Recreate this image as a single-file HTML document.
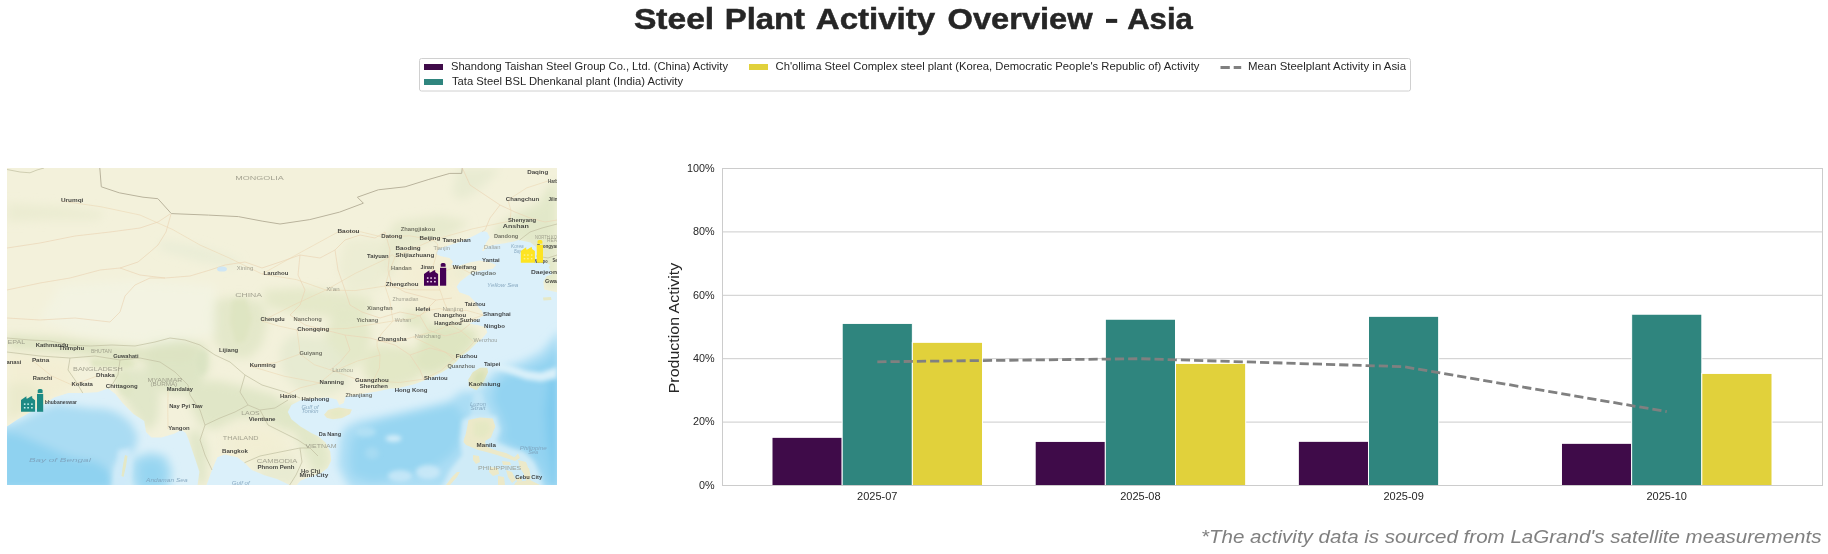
<!DOCTYPE html>
<html><head><meta charset="utf-8">
<style>
html,body{margin:0;padding:0;background:#fff;}
body{width:1828px;height:554px;overflow:hidden;font-family:"Liberation Sans",sans-serif;}
svg{display:block;position:absolute;left:0;top:0;will-change:transform;}
text{font-family:"Liberation Sans",sans-serif;}
</style></head><body>
<svg width="1828" height="554" viewBox="0 0 1828 554">
<rect width="1828" height="554" fill="#ffffff"/>
<g id="title" font-size="29.5" font-weight="bold" fill="#262626" stroke="#262626" stroke-width="0.5">
<text x="633.9" y="29" textLength="80.3" lengthAdjust="spacingAndGlyphs">Steel</text>
<text x="724.8" y="29" textLength="80.2" lengthAdjust="spacingAndGlyphs">Plant</text>
<text x="815.8" y="29" textLength="119.4" lengthAdjust="spacingAndGlyphs">Activity</text>
<text x="947.6" y="29" textLength="145.0" lengthAdjust="spacingAndGlyphs">Overview</text>
<text x="1127.2" y="29" textLength="65.6" lengthAdjust="spacingAndGlyphs">Asia</text>
</g>
<rect x="1106" y="18.9" width="11.2" height="4" fill="#262626"/>
<g id="legend">
<rect x="419.5" y="58.5" width="991" height="32.5" rx="2" ry="2" fill="#fff" stroke="#d0d0d0" stroke-width="1"/>
<rect x="424" y="64" width="19" height="6" fill="#3f0b49"/><rect x="424" y="79" width="19" height="6" fill="#2f857e"/><rect x="749" y="64" width="19" height="6" fill="#e1d13b"/>
<path d="M1220.5 67.4H1229.8M1233.7 67.4H1241.2" stroke="#808080" stroke-width="3" fill="none"/>
<g font-size="11.4" fill="#262626">
<text id="lg1" x="451" y="70" textLength="277" lengthAdjust="spacingAndGlyphs">Shandong Taishan Steel Group Co., Ltd. (China) Activity</text>
<text id="lg2" x="452" y="85" textLength="231" lengthAdjust="spacingAndGlyphs">Tata Steel BSL Dhenkanal plant (India) Activity</text>
<text id="lg3" x="775.5" y="70" textLength="424" lengthAdjust="spacingAndGlyphs">Ch'ollima Steel Complex steel plant (Korea, Democratic People's Republic of) Activity</text>
<text id="lg4" x="1248" y="70" textLength="158" lengthAdjust="spacingAndGlyphs">Mean Steelplant Activity in Asia</text>
</g></g>
<g id="map">
<defs>
<clipPath id="mapclip"><rect x="7" y="168" width="550" height="317"/></clipPath>
<clipPath id="seaclip"><polygon points="557.0,292.2 557.0,485.0 296.9,485.0 300.5,480.7 309.5,477.1 320.3,473.5 327.6,468.1 331.2,460.8 330.3,451.8 325.8,442.8 318.5,436.5 311.3,432.9 300.5,426.5 291.4,419.3 287.8,412.1 291.4,404.9 300.5,400.3 313.1,398.5 327.6,397.6 336.6,399.4 339.3,404.9 343.8,403.1 345.6,396.7 361.9,394.0 378.1,391.3 390.8,388.6 397.0,388.5 404.2,386.7 415.1,384.0 424.1,380.4 433.1,376.7 442.1,372.2 449.4,367.7 456.6,361.4 460.2,356.9 469.2,350.6 476.5,343.3 481.9,338.8 487.3,332.5 485.5,327.1 478.3,325.3 469.2,323.5 476.5,319.9 483.7,315.4 481.9,310.8 479.2,308.5 474.7,301.5 469.2,295.8 459.3,292.2 456.6,286.8 460.2,281.4 467.4,276.0 472.8,272.4 481.9,270.6 492.7,268.8 496.3,265.1 490.9,262.4 480.1,260.6 469.2,262.4 458.4,266.0 451.2,265.1 453.0,261.5 449.4,257.9 440.3,256.1 435.8,253.4 438.5,248.9 449.4,245.3 458.4,242.6 469.2,238.1 476.5,234.4 482.6,231.0 487.0,232.0 489.8,237.3 486.2,242.8 483.0,248.2 482.1,250.9 483.8,250.9 487.0,246.6 496.1,244.6 505.1,243.2 514.2,241.4 518.7,240.0 530.6,242.6 536.0,247.1 537.9,256.1 545.1,262.4 550.5,265.1 548.7,266.9 552.3,274.2 546.9,276.0 543.3,281.4 544.2,289.5"/><polygon points="206.6,485.0 212.0,469.9 217.4,457.2 224.7,454.5 237.3,457.2 244.5,462.7 251.7,469.9 264.4,475.3 277.0,478.9 289.7,485.0"/><polygon points="7.0,426.5 17.8,419.3 30.5,412.1 43.1,404.9 54.0,397.6 68.4,393.1 82.8,393.1 97.3,392.2 108.1,388.6 115.4,394.0 122.6,403.1 133.4,413.9 144.2,421.1 146.0,432.0 151.5,437.4 161.4,437.4 174.1,433.8 181.3,430.1 185.8,432.9 188.5,439.2 192.1,450.0 195.8,460.8 199.4,471.7 197.6,485.0 7.0,485.0"/></clipPath>
<filter id="b2" x="-20%" y="-20%" width="140%" height="140%"><feGaussianBlur stdDeviation="2"/></filter>
<filter id="b4" x="-20%" y="-20%" width="140%" height="140%"><feGaussianBlur stdDeviation="4"/></filter>
<filter id="b5" x="-30%" y="-30%" width="160%" height="160%"><feGaussianBlur stdDeviation="5"/></filter>
<filter id="b8" x="-30%" y="-30%" width="160%" height="160%"><feGaussianBlur stdDeviation="8"/></filter>
<filter id="b05" x="-5%" y="-5%" width="110%" height="110%"><feGaussianBlur stdDeviation="0.45"/></filter>
<filter id="b04" x="-5%" y="-5%" width="110%" height="110%"><feGaussianBlur stdDeviation="0.42"/></filter>
<filter id="b03" x="-5%" y="-5%" width="110%" height="110%"><feGaussianBlur stdDeviation="0.3"/></filter>
</defs>
<g clip-path="url(#mapclip)">
<rect x="7" y="168" width="550" height="317" fill="#f3f1db"/>
<g filter="url(#b5)">
<polygon points="215.0,300.0 240.0,296.0 262.0,302.0 268.0,320.0 262.0,345.0 250.0,358.0 228.0,358.0 214.0,340.0 210.0,318.0" fill="#e0e6c6" fill-opacity="0.8"/>
<polygon points="150.0,340.0 175.0,338.0 205.0,345.0 210.0,365.0 200.0,385.0 180.0,395.0 160.0,390.0 145.0,370.0" fill="#dce5c4" fill-opacity="0.95"/>
<polygon points="125.0,365.0 150.0,372.0 160.0,395.0 158.0,420.0 148.0,432.0 135.0,415.0 122.0,395.0" fill="#dfe6c6" fill-opacity="0.9"/>
<polygon points="185.0,385.0 215.0,380.0 250.0,388.0 275.0,395.0 290.0,408.0 300.0,425.0 285.0,432.0 262.0,420.0 240.0,418.0 215.0,430.0 200.0,425.0 190.0,405.0" fill="#dfe6c6" fill-opacity="0.95"/>
<polygon points="188.0,432.0 200.0,430.0 208.0,450.0 206.0,485.0 196.0,485.0 192.0,460.0" fill="#dfe6c6" fill-opacity="0.9"/>
<polygon points="285.0,400.0 300.0,405.0 318.0,432.0 330.0,450.0 330.0,468.0 315.0,476.0 305.0,455.0 295.0,435.0 280.0,420.0" fill="#e0e7c6" fill-opacity="0.9"/>
<polygon points="255.0,455.0 290.0,452.0 300.0,470.0 295.0,485.0 260.0,485.0" fill="#e6ead0" fill-opacity="0.8"/>
<polygon points="262.0,290.0 300.0,288.0 340.0,292.0 372.0,298.0 372.0,312.0 340.0,318.0 300.0,314.0 268.0,308.0" fill="#e3e8c8" fill-opacity="0.9"/>
<polygon points="335.0,310.0 365.0,312.0 372.0,335.0 365.0,360.0 345.0,372.0 330.0,365.0 325.0,335.0" fill="#e2e8c6" fill-opacity="0.9"/>
<polygon points="290.0,335.0 325.0,338.0 345.0,360.0 350.0,385.0 330.0,395.0 300.0,392.0 282.0,372.0 280.0,350.0" fill="#e6ead0" fill-opacity="0.9"/>
<polygon points="378.0,345.0 412.0,348.0 425.0,362.0 418.0,380.0 395.0,388.0 372.0,385.0 362.0,370.0 368.0,352.0" fill="#e1e7c4" fill-opacity="0.9"/>
<polygon points="428.0,324.0 452.0,322.0 478.0,332.0 474.0,346.0 462.0,358.0 448.0,368.0 432.0,376.0 420.0,372.0 415.0,355.0 420.0,338.0" fill="#dde5c0" fill-opacity="0.95"/>
<polygon points="404.0,310.0 426.0,310.0 428.0,326.0 408.0,328.0" fill="#dfe6c2" fill-opacity="0.9"/>
<polygon points="395.0,222.0 440.0,215.0 470.0,222.0 450.0,236.0 420.0,246.0 400.0,262.0 390.0,280.0 378.0,262.0 385.0,240.0" fill="#e5e9cb" fill-opacity="0.85"/>
<polygon points="345.0,240.0 380.0,238.0 388.0,265.0 380.0,290.0 350.0,292.0 338.0,270.0" fill="#ebecd2" fill-opacity="0.8"/>
<polygon points="440.0,268.0 462.0,266.0 470.0,275.0 455.0,284.0 440.0,280.0" fill="#e6eacc" fill-opacity="0.8"/>
<polygon points="492.0,230.0 515.0,214.0 538.0,204.0 550.0,185.0 557.0,180.0 557.0,292.0 545.0,285.0 540.0,255.0 520.0,240.0 498.0,238.0" fill="#e2e8c8" fill-opacity="0.95"/>
<polygon points="458.0,168.0 500.0,168.0 492.0,178.0 476.0,192.0 462.0,200.0 452.0,195.0 455.0,180.0" fill="#e6ead0" fill-opacity="0.8"/>
<polygon points="7.0,335.0 60.0,338.0 120.0,346.0 170.0,350.0 200.0,345.0 190.0,362.0 120.0,360.0 60.0,352.0 7.0,348.0" fill="#dde4c2" fill-opacity="0.95"/>
<polygon points="60.0,285.0 140.0,280.0 215.0,285.0 215.0,335.0 150.0,345.0 80.0,335.0 40.0,320.0" fill="#f2f4e4" fill-opacity="0.8"/>
<polygon points="7.0,203.0 60.0,206.0 105.0,212.0 98.0,220.0 50.0,220.0 7.0,222.0" fill="#eaebd0" fill-opacity="0.8"/>
<polygon points="160.0,240.0 200.0,246.0 240.0,260.0 238.0,268.0 200.0,262.0 160.0,250.0" fill="#e9ecd6" fill-opacity="0.8"/>
<polygon points="7.0,352.0 40.0,356.0 70.0,360.0 75.0,385.0 50.0,400.0 20.0,418.0 7.0,425.0" fill="#f2edd2" fill-opacity="0.8"/>
<polygon points="7.0,385.0 28.0,382.0 45.0,394.0 28.0,410.0 7.0,420.0" fill="#e9eaca" fill-opacity="0.8"/>
</g>
<g filter="url(#b2)">
<polygon points="90.0,359.0 127.0,358.0 136.0,364.0 127.0,368.5 92.0,367.5" fill="#dde5c0" fill-opacity="0.85"/>
<polygon points="113.0,372.0 127.0,370.0 134.0,385.0 130.0,398.0 120.0,394.0 115.0,383.0" fill="#dfe6c4" fill-opacity="0.8"/>
<polygon points="200.0,350.0 208.0,352.0 206.0,372.0 200.0,376.0 196.0,362.0" fill="#d9e3c2" fill-opacity="0.7"/>
<polygon points="232.0,300.0 246.0,298.0 252.0,318.0 246.0,340.0 236.0,344.0 230.0,322.0" fill="#dae2bc" fill-opacity="0.6"/>
</g>
<g filter="url(#b8)">
<polygon points="400.0,250.0 450.0,255.0 470.0,290.0 478.0,312.0 440.0,320.0 405.0,305.0 395.0,275.0" fill="#f3eed4" fill-opacity="0.9"/>
<polygon points="225.0,430.0 265.0,425.0 290.0,440.0 285.0,462.0 250.0,465.0 225.0,455.0" fill="#f1edd2" fill-opacity="0.8"/>
</g>
<g filter="url(#b05)"><polygon points="557.0,292.2 557.0,485.0 296.9,485.0 300.5,480.7 309.5,477.1 320.3,473.5 327.6,468.1 331.2,460.8 330.3,451.8 325.8,442.8 318.5,436.5 311.3,432.9 300.5,426.5 291.4,419.3 287.8,412.1 291.4,404.9 300.5,400.3 313.1,398.5 327.6,397.6 336.6,399.4 339.3,404.9 343.8,403.1 345.6,396.7 361.9,394.0 378.1,391.3 390.8,388.6 397.0,388.5 404.2,386.7 415.1,384.0 424.1,380.4 433.1,376.7 442.1,372.2 449.4,367.7 456.6,361.4 460.2,356.9 469.2,350.6 476.5,343.3 481.9,338.8 487.3,332.5 485.5,327.1 478.3,325.3 469.2,323.5 476.5,319.9 483.7,315.4 481.9,310.8 479.2,308.5 474.7,301.5 469.2,295.8 459.3,292.2 456.6,286.8 460.2,281.4 467.4,276.0 472.8,272.4 481.9,270.6 492.7,268.8 496.3,265.1 490.9,262.4 480.1,260.6 469.2,262.4 458.4,266.0 451.2,265.1 453.0,261.5 449.4,257.9 440.3,256.1 435.8,253.4 438.5,248.9 449.4,245.3 458.4,242.6 469.2,238.1 476.5,234.4 482.6,231.0 487.0,232.0 489.8,237.3 486.2,242.8 483.0,248.2 482.1,250.9 483.8,250.9 487.0,246.6 496.1,244.6 505.1,243.2 514.2,241.4 518.7,240.0 530.6,242.6 536.0,247.1 537.9,256.1 545.1,262.4 550.5,265.1 548.7,266.9 552.3,274.2 546.9,276.0 543.3,281.4 544.2,289.5" fill="#dbf0fa"/><polygon points="206.6,485.0 212.0,469.9 217.4,457.2 224.7,454.5 237.3,457.2 244.5,462.7 251.7,469.9 264.4,475.3 277.0,478.9 289.7,485.0" fill="#dbf0fa"/><polygon points="7.0,426.5 17.8,419.3 30.5,412.1 43.1,404.9 54.0,397.6 68.4,393.1 82.8,393.1 97.3,392.2 108.1,388.6 115.4,394.0 122.6,403.1 133.4,413.9 144.2,421.1 146.0,432.0 151.5,437.4 161.4,437.4 174.1,433.8 181.3,430.1 185.8,432.9 188.5,439.2 192.1,450.0 195.8,460.8 199.4,471.7 197.6,485.0 7.0,485.0" fill="#dcf0f9"/></g>
<g clip-path="url(#seaclip)">
<g filter="url(#b4)">
<polygon points="0.0,427.0 20.0,420.5 40.0,410.5 55.0,404.0 70.0,405.5 88.0,408.0 106.0,409.0 118.0,413.0 130.0,422.0 138.0,436.0 135.0,450.0 124.0,456.0 114.0,468.0 110.0,490.0 0.0,490.0" fill="#aadcf3"/>
<polygon points="0.0,432.0 18.0,434.0 43.0,445.0 70.0,457.0 97.0,462.0 111.0,472.0 114.0,490.0 0.0,490.0" fill="#8fd2f0"/>
<polygon points="133.0,458.0 150.0,452.0 166.0,456.0 172.0,470.0 170.0,490.0 134.0,490.0 130.0,472.0" fill="#a8dcf3"/>
<polygon points="140.0,462.0 158.0,460.0 165.0,472.0 160.0,490.0 140.0,490.0" fill="#96d5f1"/>
<polygon points="560.0,330.0 541.0,352.0 523.0,361.0 505.0,367.0 492.0,374.0 482.0,388.0 474.0,392.0 462.0,391.0 449.0,401.0 420.0,408.0 388.0,415.0 358.0,421.0 344.0,428.0 340.0,439.0 339.0,452.0 338.0,466.0 345.0,480.0 352.0,490.0 560.0,490.0" fill="#abddf4"/>
<polygon points="437.0,408.0 410.0,414.0 385.0,420.0 365.0,428.0 352.0,440.0 350.0,460.0 352.0,475.0 372.0,482.0 400.0,478.0 430.0,470.0 452.0,455.0 462.0,440.0 466.0,420.0 455.0,404.0" fill="#97d5f1"/>
<polygon points="560.0,345.0 545.0,360.0 525.0,370.0 505.0,376.0 495.0,385.0 492.0,400.0 500.0,415.0 505.0,430.0 500.0,440.0 515.0,448.0 530.0,455.0 540.0,468.0 548.0,490.0 560.0,490.0" fill="#93d3f1"/>
<polygon points="560.0,370.0 549.0,380.0 545.0,410.0 547.0,440.0 552.0,470.0 556.0,490.0 560.0,490.0" fill="#7fcaee"/>
</g>
<g filter="url(#b2)">
<polygon points="494.0,362.0 511.0,365.5 526.0,370.5 541.0,372.5 557.0,367.0 557.0,378.0 541.0,381.5 526.0,379.5 511.0,374.0 495.0,368.5" fill="#dcf1fa" fill-opacity="0.95"/>
<polygon points="474.0,390.0 482.0,392.0 486.0,405.0 492.0,416.0 470.0,418.0 472.0,404.0" fill="#c4e7f7" fill-opacity="0.9"/>
<polygon points="462.0,420.0 470.0,416.0 496.0,416.0 500.0,430.0 496.0,442.0 510.0,448.0 524.0,452.0 534.0,462.0 540.0,476.0 544.0,490.0 440.0,490.0 450.0,470.0 462.0,455.0 460.0,440.0" fill="#d2ecf8" fill-opacity="0.95"/>
<ellipse cx="393.5" cy="438.5" rx="8" ry="3.5" fill="#d6eef9" fill-opacity="0.9"/>
<ellipse cx="366" cy="432" rx="10" ry="5" fill="#b7e2f5" fill-opacity="0.8"/>
<ellipse cx="372" cy="453" rx="7" ry="6" fill="#a9dcf3" fill-opacity="0.8"/>
<ellipse cx="400" cy="476" rx="12" ry="6" fill="#c9e9f8" fill-opacity="0.85"/>
<ellipse cx="428" cy="472" rx="12" ry="7" fill="#cdeaf8" fill-opacity="0.85"/>
<polygon points="118.0,450.0 130.0,448.0 132.0,470.0 128.0,490.0 112.0,490.0 116.0,470.0" fill="#cdeaf8" fill-opacity="0.9"/>
</g>
</g>
<g filter="url(#b05)">
<polygon points="487.3,367.7 488.0,372.2 483.7,381.3 476.5,390.3 469.2,386.7 468.3,379.5 472.8,372.2 480.1,367.7" fill="#e4e6c3"/>
<polygon points="324.0,414.8 328.0,410.0 338.4,407.6 351.9,409.4 350.0,414.0 342.0,418.0 333.0,419.3 327.0,418.0" fill="#ebe9c8"/>
<polygon points="468.5,420.0 480.0,417.5 492.7,418.4 495.4,426.5 493.0,432.0 490.9,437.4 485.0,441.0 486.0,446.0 492.0,449.0 498.1,450.9 506.0,453.0 514.4,457.2 518.0,453.6 520.0,458.0 515.0,461.0 506.0,458.0 497.0,455.0 485.5,451.8 478.3,450.0 472.0,447.5 466.0,445.0 463.5,442.0 464.0,439.0 465.5,435.0 467.0,428.0" fill="#ece9c9"/>
<polygon points="473.0,455.0 479.0,456.0 480.0,462.0 476.0,464.0 473.0,460.0" fill="#ece9c9"/>
<polygon points="490.0,467.0 498.0,468.0 499.0,474.0 493.0,476.0 489.0,472.0" fill="#ece9c9"/>
<polygon points="518.0,460.0 526.0,462.0 529.0,470.0 524.0,474.0 520.0,468.0" fill="#ece9c9"/>
<polygon points="506.0,470.0 512.0,472.0 516.0,480.0 512.0,483.0 508.0,477.0" fill="#ece9c9"/>
<polygon points="498.0,476.0 504.0,477.0 505.0,485.0 498.0,485.0" fill="#ece9c9"/>
<polygon points="460.0,472.0 457.0,477.0 450.0,485.0 446.0,485.0 452.0,477.0 457.0,472.0" fill="#ece9c9"/>
<polygon points="543.0,297.5 551.0,297.0 551.5,300.0 543.5,300.5" fill="#e6e8c6"/>
<polygon points="125.0,455.0 127.5,456.0 126.0,466.0 123.5,477.0 121.5,476.0 123.0,465.0" fill="#e4e8c6"/>
<polygon points="516.0,482.0 530.0,480.0 540.0,485.0 514.0,485.0" fill="#ece9c9"/>
<polygon points="524.0,469.0 529.0,468.0 531.0,478.0 527.0,482.0 524.0,476.0" fill="#ece9c9"/>
<polygon points="502.0,461.0 510.0,462.0 511.0,465.0 503.0,465.0" fill="#ece9c9"/>
<polygon points="516.0,478.0 521.0,477.0 522.0,481.0 517.0,482.0" fill="#ece9c9"/>
</g>
<g filter="url(#b2)">
<polygon points="475.0,373.0 484.0,370.0 485.0,380.0 479.0,387.0 473.0,383.0" fill="#d6e0b4" fill-opacity="0.8"/>
<polygon points="474.0,422.0 488.0,421.0 491.0,430.0 484.0,438.0 474.0,436.0" fill="#e3e8c2" fill-opacity="0.8"/>
<polygon points="330.0,411.0 344.0,410.0 343.0,416.0 332.0,417.0" fill="#e2e8c2" fill-opacity="0.7"/>
</g>
<g filter="url(#b03)" fill="none"><polyline points="99.8,168.0 101.3,186.8 119.2,192.8 143.0,197.2 157.9,198.7 171.3,213.6 208.5,215.1 238.3,216.6 262.1,221.1 280.0,224.0 309.8,219.6 339.6,212.1 363.4,203.2 357.4,197.2 378.3,189.8 405.1,186.8 428.9,179.4 449.8,173.4 461.7,173.4 462.3,168.0" stroke="#b9b39c" stroke-width="1"/>
<polyline points="7.0,248.0 40.0,243.0 75.0,236.0 110.0,232.0 140.0,228.0 158.0,222.0 170.0,214.0" stroke="#ead4b4" stroke-width="0.9" stroke-opacity="0.75"/>
<polyline points="7.0,290.0 40.0,283.0 70.0,278.0 100.0,270.0 120.0,268.0 138.0,262.0 150.0,252.0 158.0,245.0 166.0,232.0 171.0,214.0" stroke="#ead4b4" stroke-width="0.9" stroke-opacity="0.75"/>
<polyline points="120.0,268.0 140.0,275.0 165.0,278.0 190.0,276.0 210.0,270.0 225.0,265.0 245.0,262.0 262.0,268.0" stroke="#ead4b4" stroke-width="0.9" stroke-opacity="0.75"/>
<polyline points="7.0,318.0 40.0,320.0 75.0,318.0 110.0,322.0 120.0,312.0 125.0,296.0 135.0,285.0 150.0,278.0 165.0,278.0" stroke="#ead4b4" stroke-width="0.9" stroke-opacity="0.75"/>
<polyline points="262.0,268.0 280.0,262.0 300.0,255.0 320.0,258.0 335.0,250.0 345.0,240.0 360.0,235.0 375.0,238.0 385.0,232.0" stroke="#ead4b4" stroke-width="0.9" stroke-opacity="0.75"/>
<polyline points="300.0,255.0 298.0,275.0 305.0,290.0 300.0,305.0 290.0,315.0" stroke="#ead4b4" stroke-width="0.9" stroke-opacity="0.75"/>
<polyline points="335.0,250.0 338.0,270.0 345.0,290.0 350.0,305.0 362.0,312.0" stroke="#ead4b4" stroke-width="0.9" stroke-opacity="0.75"/>
<polyline points="385.0,232.0 390.0,250.0 388.0,270.0 392.0,285.0 405.0,292.0 420.0,296.0 436.0,300.0 452.0,298.0" stroke="#ead4b4" stroke-width="0.9" stroke-opacity="0.75"/>
<polyline points="362.0,312.0 380.0,318.0 400.0,312.0 420.0,316.0 436.0,300.0" stroke="#ead4b4" stroke-width="0.9" stroke-opacity="0.75"/>
<polyline points="290.0,315.0 305.0,325.0 325.0,330.0 345.0,335.0 350.0,350.0 340.0,362.0 330.0,370.0" stroke="#ead4b4" stroke-width="0.9" stroke-opacity="0.75"/>
<polyline points="345.0,335.0 370.0,338.0 395.0,345.0 410.0,355.0 420.0,370.0 424.0,380.0" stroke="#ead4b4" stroke-width="0.9" stroke-opacity="0.75"/>
<polyline points="410.0,355.0 430.0,348.0 445.0,352.0 456.0,361.0" stroke="#ead4b4" stroke-width="0.9" stroke-opacity="0.75"/>
<polyline points="420.0,316.0 428.0,330.0 445.0,336.0 460.0,332.0 470.0,324.0" stroke="#ead4b4" stroke-width="0.9" stroke-opacity="0.75"/>
<polyline points="200.0,345.0 215.0,355.0 230.0,362.0 245.0,375.0 262.0,385.0 285.0,392.0 300.0,398.0" stroke="#c4c3a4" stroke-width="0.9" stroke-opacity="0.85"/>
<polyline points="245.0,375.0 240.0,392.0 248.0,405.0 260.0,410.0 275.0,408.0 288.0,400.0" stroke="#c4c3a4" stroke-width="0.9" stroke-opacity="0.85"/>
<polyline points="190.0,395.0 200.0,410.0 205.0,425.0 200.0,440.0 205.0,455.0 212.0,470.0" stroke="#c4c3a4" stroke-width="0.9" stroke-opacity="0.85"/>
<polyline points="205.0,425.0 220.0,418.0 235.0,412.0 248.0,405.0" stroke="#c4c3a4" stroke-width="0.9" stroke-opacity="0.85"/>
<polyline points="260.0,410.0 268.0,425.0 282.0,432.0 298.0,440.0 310.0,448.0 318.0,456.0" stroke="#c4c3a4" stroke-width="0.9" stroke-opacity="0.85"/>
<polyline points="244.5,462.7 260.0,456.0 280.0,452.0 300.0,448.0 310.0,448.0" stroke="#c4c3a4" stroke-width="0.9" stroke-opacity="0.85"/>
<polyline points="300.0,448.0 302.0,462.0 296.0,475.0 289.7,485.0" stroke="#c4c3a4" stroke-width="0.9" stroke-opacity="0.85"/>
<polyline points="7.0,352.0 40.0,356.0 70.0,358.0 95.0,356.0 120.0,360.0" stroke="#c4c3a4" stroke-width="0.9" stroke-opacity="0.85"/>
<polyline points="70.0,358.0 68.0,370.0 75.0,380.0 82.8,393.1" stroke="#c4c3a4" stroke-width="0.9" stroke-opacity="0.85"/>
<polyline points="120.0,360.0 118.0,375.0 112.0,385.0 108.1,388.6" stroke="#c4c3a4" stroke-width="0.9" stroke-opacity="0.85"/>
<polyline points="120.0,360.0 140.0,358.0 160.0,362.0 175.0,372.0 188.0,385.0 190.0,395.0" stroke="#c4c3a4" stroke-width="0.9" stroke-opacity="0.85"/>
<polyline points="462.3,168.0 470.0,185.0 485.0,195.0 500.0,205.0 515.0,212.0 530.0,218.0 545.0,222.0 557.0,220.0" stroke="#ead4b4" stroke-width="0.9" stroke-opacity="0.75"/>
<polyline points="500.0,205.0 490.0,218.0 485.0,230.0 481.9,231.7" stroke="#ead4b4" stroke-width="0.9" stroke-opacity="0.75"/>
<polyline points="519.8,239.9 530.0,232.0 542.0,228.0 557.0,224.0" stroke="#c4c3a4" stroke-width="0.9" stroke-opacity="0.85"/>
<polyline points="536.0,256.0 548.0,258.0 557.0,255.0" stroke="#c4c3a4" stroke-width="0.9" stroke-opacity="0.85"/>
<polyline points="7.0,169.5 20.0,172.0 30.0,172.8 37.0,170.0 44.0,168.0" stroke="#c4c3a4" stroke-width="0.9" stroke-opacity="0.85"/>
<polyline points="7.0,338.0 30.0,340.0 50.0,341.0 70.0,345.0 90.0,346.0 112.0,345.0 135.0,346.0 155.0,342.0 170.0,338.0 185.0,340.0 200.0,345.0" stroke="#c4c3a4" stroke-width="0.9" stroke-opacity="0.85"/>
<polyline points="433.0,240.0 412.4,248.8 395.0,257.0 389.2,272.1 385.0,286.0 389.8,300.9 393.0,321.0 382.1,333.0 377.0,341.0 377.1,346.4 380.0,355.0 379.5,367.8 373.0,381.0" stroke="#ecd6b2" stroke-width="0.8" stroke-opacity="0.7" stroke-linejoin="round"/>
<polyline points="433.0,240.0 437.5,243.9 438.0,248.0 435.8,256.9 432.0,270.0 436.8,282.2 440.0,290.0 444.1,301.9 448.0,311.0 466.5,310.4 483.0,315.0 468.0,320.5 450.0,325.0 460.8,330.7 474.0,342.0 467.2,349.3 456.0,357.0 441.3,370.3 424.0,379.0 399.8,382.5 373.0,381.0" stroke="#ecd6b2" stroke-width="0.8" stroke-opacity="0.7" stroke-linejoin="round"/>
<polyline points="440.0,290.0 411.9,289.8 385.0,286.0 355.2,290.6 326.0,290.0 296.3,279.6 262.0,274.0 228.8,257.8 200.0,245.0 172.8,229.6 140.0,215.0 101.3,206.8 61.0,201.0" stroke="#ecd6b2" stroke-width="0.8" stroke-opacity="0.7" stroke-linejoin="round"/>
<polyline points="326.0,290.0 294.0,304.8 262.0,321.0 278.6,326.0 297.0,330.0 299.0,344.4 300.0,354.0 276.1,362.6 250.0,366.0" stroke="#ecd6b2" stroke-width="0.8" stroke-opacity="0.7" stroke-linejoin="round"/>
<polyline points="393.0,321.0 413.6,318.4 430.0,310.0 440.0,308.5 448.0,311.0" stroke="#ecd6b2" stroke-width="0.8" stroke-opacity="0.7" stroke-linejoin="round"/>
<polyline points="377.0,341.0 397.2,341.8 413.0,337.0 433.9,331.4 450.0,325.0" stroke="#ecd6b2" stroke-width="0.8" stroke-opacity="0.7" stroke-linejoin="round"/>
<polyline points="433.0,240.0 472.8,228.8 510.0,221.0 511.0,210.9 508.0,200.0 526.7,187.9 548.0,181.0" stroke="#ecd6b2" stroke-width="0.8" stroke-opacity="0.7" stroke-linejoin="round"/>
<polyline points="373.0,381.0 355.6,378.9 334.0,371.0 324.5,378.8 320.0,383.0 300.0,387.9 281.0,397.0" stroke="#ecd6b2" stroke-width="0.8" stroke-opacity="0.7" stroke-linejoin="round"/>
<polyline points="320.0,383.0 283.8,376.1 250.0,366.0" stroke="#ecd6b2" stroke-width="0.8" stroke-opacity="0.7" stroke-linejoin="round"/>
<polyline points="433.0,240.0 409.7,235.8 382.0,237.0 360.7,231.8 338.0,232.0 301.3,252.0 262.0,274.0" stroke="#ecd6b2" stroke-width="0.8" stroke-opacity="0.7" stroke-linejoin="round"/>
<polyline points="297.0,330.0 347.3,328.4 393.0,321.0" stroke="#ecd6b2" stroke-width="0.8" stroke-opacity="0.7" stroke-linejoin="round"/>
<polyline points="432.0,270.0 442.5,272.0 453.0,268.0 460.4,268.0 470.0,273.0" stroke="#ecd6b2" stroke-width="0.8" stroke-opacity="0.7" stroke-linejoin="round"/>
<polyline points="395.0,257.0 392.1,254.7 388.0,258.0 355.2,273.4 326.0,290.0" stroke="#ecd6b2" stroke-width="0.8" stroke-opacity="0.7" stroke-linejoin="round"/>
<polyline points="380.0,355.0 357.7,360.9 334.0,371.0 314.3,364.7 300.0,354.0" stroke="#ecd6b2" stroke-width="0.8" stroke-opacity="0.7" stroke-linejoin="round"/>
<polyline points="33.0,361.0 51.4,375.8 72.0,385.0 86.9,379.8 97.0,376.0" stroke="#ecd6b2" stroke-width="0.8" stroke-opacity="0.7" stroke-linejoin="round"/>
<polyline points="168.0,390.0 167.8,409.6 168.0,429.0" stroke="#ecd6b2" stroke-width="0.8" stroke-opacity="0.7" stroke-linejoin="round"/>
<polyline points="413.0,337.0 435.4,347.6 456.0,357.0" stroke="#ecd6b2" stroke-width="0.8" stroke-opacity="0.7" stroke-linejoin="round"/>
</g>
<ellipse cx="222" cy="269" rx="5" ry="2.6" fill="#cfe6f4"/>
<g filter="url(#b04)">
<text x="235.2" y="180.1" font-size="4.7" font-weight="normal" fill="#8a8878" fill-opacity="0.75" textLength="48.5" lengthAdjust="spacingAndGlyphs">MONGOLIA</text>
<text x="61.0" y="202.4" font-size="4.7" font-weight="bold" fill="#222222" fill-opacity="0.82" textLength="22.4" lengthAdjust="spacingAndGlyphs">Urumqi</text>
<text x="527.2" y="173.5" font-size="4.7" font-weight="bold" fill="#222222" fill-opacity="0.82" textLength="21" lengthAdjust="spacingAndGlyphs">Daqing</text>
<text x="548.0" y="182.5" font-size="4.7" font-weight="bold" fill="#222222" fill-opacity="0.82" textLength="10" lengthAdjust="spacingAndGlyphs">Harb</text>
<text x="505.8" y="201.2" font-size="4.7" font-weight="bold" fill="#222222" fill-opacity="0.82" textLength="33.4" lengthAdjust="spacingAndGlyphs">Changchun</text>
<text x="548.5" y="201.2" font-size="4.7" font-weight="bold" fill="#222222" fill-opacity="0.82" textLength="9" lengthAdjust="spacingAndGlyphs">Jilin</text>
<text x="507.9" y="222.1" font-size="4.7" font-weight="bold" fill="#222222" fill-opacity="0.82" textLength="28.3" lengthAdjust="spacingAndGlyphs">Shenyang</text>
<text x="502.8" y="228.3" font-size="4.7" font-weight="bold" fill="#222222" fill-opacity="0.82" textLength="26" lengthAdjust="spacingAndGlyphs">Anshan</text>
<text x="493.9" y="238.2" font-size="4.6" font-weight="bold" fill="#3a3a32" fill-opacity="0.7" textLength="24.4" lengthAdjust="spacingAndGlyphs">Dandong</text>
<text x="337.5" y="233.1" font-size="4.7" font-weight="bold" fill="#222222" fill-opacity="0.82" textLength="22" lengthAdjust="spacingAndGlyphs">Baotou</text>
<text x="400.7" y="231.3" font-size="4.6" font-weight="bold" fill="#3a3a32" fill-opacity="0.7" textLength="34.3" lengthAdjust="spacingAndGlyphs">Zhangjiakou</text>
<text x="381.3" y="238.2" font-size="4.7" font-weight="bold" fill="#222222" fill-opacity="0.82" textLength="20.8" lengthAdjust="spacingAndGlyphs">Datong</text>
<text x="419.4" y="239.9" font-size="4.7" font-weight="bold" fill="#222222" fill-opacity="0.82" textLength="20.9" lengthAdjust="spacingAndGlyphs">Beijing</text>
<text x="442.4" y="242.0" font-size="4.7" font-weight="bold" fill="#222222" fill-opacity="0.82" textLength="28.3" lengthAdjust="spacingAndGlyphs">Tangshan</text>
<text x="395.6" y="249.5" font-size="4.7" font-weight="bold" fill="#222222" fill-opacity="0.82" textLength="25" lengthAdjust="spacingAndGlyphs">Baoding</text>
<text x="433.4" y="249.5" font-size="4.6" font-weight="normal" fill="#6b6b60" fill-opacity="0.6" textLength="16.4" lengthAdjust="spacingAndGlyphs">Tianjin</text>
<text x="484.0" y="248.9" font-size="4.6" font-weight="normal" fill="#6b6b60" fill-opacity="0.6" textLength="16.4" lengthAdjust="spacingAndGlyphs">Dalian</text>
<text x="395.6" y="256.9" font-size="4.7" font-weight="bold" fill="#222222" fill-opacity="0.82" textLength="38.7" lengthAdjust="spacingAndGlyphs">Shijiazhuang</text>
<text x="367.0" y="258.4" font-size="4.7" font-weight="bold" fill="#222222" fill-opacity="0.82" textLength="21.7" lengthAdjust="spacingAndGlyphs">Taiyuan</text>
<text x="482.0" y="262.0" font-size="4.7" font-weight="bold" fill="#222222" fill-opacity="0.82" textLength="17.8" lengthAdjust="spacingAndGlyphs">Yantai</text>
<text x="391.1" y="269.7" font-size="4.6" font-weight="bold" fill="#3a3a32" fill-opacity="0.7" textLength="20.6" lengthAdjust="spacingAndGlyphs">Handan</text>
<text x="420.6" y="269.4" font-size="4.7" font-weight="bold" fill="#222222" fill-opacity="0.82" textLength="13.5" lengthAdjust="spacingAndGlyphs">Jinan</text>
<text x="452.8" y="268.8" font-size="4.7" font-weight="bold" fill="#222222" fill-opacity="0.82" textLength="23.8" lengthAdjust="spacingAndGlyphs">Weifang</text>
<text x="470.6" y="274.8" font-size="4.6" font-weight="bold" fill="#3a3a32" fill-opacity="0.7" textLength="25.4" lengthAdjust="spacingAndGlyphs">Qingdao</text>
<text x="531.0" y="273.9" font-size="4.7" font-weight="bold" fill="#222222" fill-opacity="0.82" textLength="26" lengthAdjust="spacingAndGlyphs">Daejeon</text>
<text x="545.0" y="282.8" font-size="4.7" font-weight="bold" fill="#222222" fill-opacity="0.82" textLength="12" lengthAdjust="spacingAndGlyphs">Gwa</text>
<text x="385.7" y="286.1" font-size="4.7" font-weight="bold" fill="#222222" fill-opacity="0.82" textLength="32.8" lengthAdjust="spacingAndGlyphs">Zhengzhou</text>
<text x="326.2" y="290.6" font-size="4.6" font-weight="normal" fill="#6b6b60" fill-opacity="0.6" textLength="13.4" lengthAdjust="spacingAndGlyphs">Xi'an</text>
<text x="487.1" y="286.7" font-size="4.6" font-style="italic" fill="#7b9fb8" fill-opacity="0.85" textLength="31.3" lengthAdjust="spacingAndGlyphs">Yellow  Sea</text>
<text x="392.5" y="301.0" font-size="4.6" font-weight="normal" fill="#6b6b60" fill-opacity="0.6" textLength="26" lengthAdjust="spacingAndGlyphs">Zhumadian</text>
<text x="464.7" y="305.5" font-size="4.7" font-weight="bold" fill="#222222" fill-opacity="0.82" textLength="20.8" lengthAdjust="spacingAndGlyphs">Taizhou</text>
<text x="367.0" y="309.6" font-size="4.6" font-weight="bold" fill="#3a3a32" fill-opacity="0.7" textLength="25.6" lengthAdjust="spacingAndGlyphs">Xiangfan</text>
<text x="415.5" y="311.1" font-size="4.7" font-weight="bold" fill="#222222" fill-opacity="0.82" textLength="15" lengthAdjust="spacingAndGlyphs">Hefei</text>
<text x="442.4" y="311.1" font-size="4.6" font-weight="normal" fill="#6b6b60" fill-opacity="0.6" textLength="20.9" lengthAdjust="spacingAndGlyphs">Nanjing</text>
<text x="433.4" y="316.8" font-size="4.7" font-weight="bold" fill="#222222" fill-opacity="0.82" textLength="32.8" lengthAdjust="spacingAndGlyphs">Changzhou</text>
<text x="483.1" y="316.2" font-size="4.7" font-weight="bold" fill="#222222" fill-opacity="0.82" textLength="27.7" lengthAdjust="spacingAndGlyphs">Shanghai</text>
<text x="460.0" y="321.6" font-size="4.7" font-weight="bold" fill="#222222" fill-opacity="0.82" textLength="20" lengthAdjust="spacingAndGlyphs">Suzhou</text>
<text x="293.5" y="320.6" font-size="4.6" font-weight="bold" fill="#3a3a32" fill-opacity="0.7" textLength="28.3" lengthAdjust="spacingAndGlyphs">Nanchong</text>
<text x="356.5" y="321.6" font-size="4.6" font-weight="bold" fill="#3a3a32" fill-opacity="0.7" textLength="21.7" lengthAdjust="spacingAndGlyphs">Yichang</text>
<text x="394.7" y="321.6" font-size="4.6" font-weight="normal" fill="#6b6b60" fill-opacity="0.6" textLength="16.4" lengthAdjust="spacingAndGlyphs">Wuhan</text>
<text x="434.3" y="325.4" font-size="4.7" font-weight="bold" fill="#222222" fill-opacity="0.82" textLength="27.4" lengthAdjust="spacingAndGlyphs">Hangzhou</text>
<text x="236.8" y="270.3" font-size="4.6" font-weight="normal" fill="#6b6b60" fill-opacity="0.6" textLength="16.4" lengthAdjust="spacingAndGlyphs">Xining</text>
<text x="263.6" y="275.4" font-size="4.7" font-weight="bold" fill="#222222" fill-opacity="0.82" textLength="24.8" lengthAdjust="spacingAndGlyphs">Lanzhou</text>
<text x="235.3" y="297.1" font-size="4.7" font-weight="normal" fill="#8a8878" fill-opacity="0.75" textLength="26.8" lengthAdjust="spacingAndGlyphs">CHINA</text>
<text x="260.6" y="321.2" font-size="4.7" font-weight="bold" fill="#222222" fill-opacity="0.82" textLength="24" lengthAdjust="spacingAndGlyphs">Chengdu</text>
<text x="2.3" y="343.6" font-size="4.7" font-weight="normal" fill="#8a8878" fill-opacity="0.75" textLength="23" lengthAdjust="spacingAndGlyphs">NEPAL</text>
<text x="35.7" y="346.6" font-size="4.7" font-weight="bold" fill="#222222" fill-opacity="0.82" textLength="32.8" lengthAdjust="spacingAndGlyphs">Kathmandu</text>
<text x="58.9" y="350.4" font-size="4.7" font-weight="bold" fill="#222222" fill-opacity="0.82" textLength="25.3" lengthAdjust="spacingAndGlyphs">Thimphu</text>
<text x="90.9" y="352.8" font-size="4.7" font-weight="normal" fill="#8a8878" fill-opacity="0.75" textLength="20.8" lengthAdjust="spacingAndGlyphs">BHUTAN</text>
<text x="113.2" y="357.6" font-size="4.7" font-weight="bold" fill="#222222" fill-opacity="0.82" textLength="25.3" lengthAdjust="spacingAndGlyphs">Guwahati</text>
<text x="218.9" y="351.9" font-size="4.7" font-weight="bold" fill="#222222" fill-opacity="0.82" textLength="19.4" lengthAdjust="spacingAndGlyphs">Lijiang</text>
<text x="6.5" y="364.4" font-size="4.7" font-weight="bold" fill="#222222" fill-opacity="0.82" textLength="15" lengthAdjust="spacingAndGlyphs">anasi</text>
<text x="31.9" y="362.3" font-size="4.7" font-weight="bold" fill="#222222" fill-opacity="0.82" textLength="17.3" lengthAdjust="spacingAndGlyphs">Patna</text>
<text x="249.7" y="366.5" font-size="4.7" font-weight="bold" fill="#222222" fill-opacity="0.82" textLength="25.9" lengthAdjust="spacingAndGlyphs">Kunming</text>
<text x="73.1" y="371.3" font-size="4.7" font-weight="normal" fill="#8a8878" fill-opacity="0.75" textLength="49.7" lengthAdjust="spacingAndGlyphs">BANGLADESH</text>
<text x="95.9" y="377.2" font-size="4.7" font-weight="bold" fill="#222222" fill-opacity="0.82" textLength="18.8" lengthAdjust="spacingAndGlyphs">Dhaka</text>
<text x="32.8" y="380.2" font-size="4.7" font-weight="bold" fill="#222222" fill-opacity="0.82" textLength="19.3" lengthAdjust="spacingAndGlyphs">Ranchi</text>
<text x="147.5" y="381.7" font-size="4.7" font-weight="normal" fill="#8a8878" fill-opacity="0.75" textLength="34.8" lengthAdjust="spacingAndGlyphs">MYANMAR</text>
<text x="150.4" y="385.6" font-size="4.7" font-weight="normal" fill="#8a8878" fill-opacity="0.75" textLength="26.8" lengthAdjust="spacingAndGlyphs">(BURMA)</text>
<text x="71.5" y="386.2" font-size="4.7" font-weight="bold" fill="#222222" fill-opacity="0.82" textLength="21.4" lengthAdjust="spacingAndGlyphs">Kolkata</text>
<text x="105.8" y="388.3" font-size="4.7" font-weight="bold" fill="#222222" fill-opacity="0.82" textLength="31.9" lengthAdjust="spacingAndGlyphs">Chittagong</text>
<text x="166.8" y="390.6" font-size="4.7" font-weight="bold" fill="#222222" fill-opacity="0.82" textLength="26.2" lengthAdjust="spacingAndGlyphs">Mandalay</text>
<text x="44.7" y="404.1" font-size="4.7" font-weight="bold" fill="#222222" fill-opacity="0.82" textLength="32.2" lengthAdjust="spacingAndGlyphs">bhubaneswar</text>
<text x="169.2" y="407.9" font-size="4.7" font-weight="bold" fill="#222222" fill-opacity="0.82" textLength="33.4" lengthAdjust="spacingAndGlyphs">Nay Pyi Taw</text>
<text x="241.2" y="415.4" font-size="4.7" font-weight="normal" fill="#8a8878" fill-opacity="0.75" textLength="18.5" lengthAdjust="spacingAndGlyphs">LAOS</text>
<text x="248.7" y="421.3" font-size="4.7" font-weight="bold" fill="#222222" fill-opacity="0.82" textLength="26.8" lengthAdjust="spacingAndGlyphs">Vientiane</text>
<text x="168.2" y="430.0" font-size="4.7" font-weight="bold" fill="#222222" fill-opacity="0.82" textLength="21.5" lengthAdjust="spacingAndGlyphs">Yangon</text>
<text x="222.8" y="439.8" font-size="4.7" font-weight="normal" fill="#8a8878" fill-opacity="0.75" textLength="35.8" lengthAdjust="spacingAndGlyphs">THAILAND</text>
<text x="222.0" y="453.2" font-size="4.7" font-weight="bold" fill="#222222" fill-opacity="0.82" textLength="25.9" lengthAdjust="spacingAndGlyphs">Bangkok</text>
<text x="256.8" y="463.0" font-size="4.7" font-weight="normal" fill="#8a8878" fill-opacity="0.75" textLength="40.5" lengthAdjust="spacingAndGlyphs">CAMBODIA</text>
<text x="257.5" y="469.0" font-size="4.7" font-weight="bold" fill="#222222" fill-opacity="0.82" textLength="37" lengthAdjust="spacingAndGlyphs">Phnom Penh</text>
<text x="28.9" y="462.1" font-size="4.6" font-style="italic" fill="#7b9fb8" fill-opacity="0.85" textLength="62" lengthAdjust="spacingAndGlyphs">Bay   of   Bengal</text>
<text x="146.0" y="481.5" font-size="4.6" font-style="italic" fill="#7b9fb8" fill-opacity="0.85" textLength="41.7" lengthAdjust="spacingAndGlyphs">Andaman Sea</text>
<text x="231.7" y="484.5" font-size="4.6" font-style="italic" fill="#7b9fb8" fill-opacity="0.85" textLength="18" lengthAdjust="spacingAndGlyphs">Gulf of</text>
<text x="297.2" y="330.5" font-size="4.7" font-weight="bold" fill="#222222" fill-opacity="0.82" textLength="31.9" lengthAdjust="spacingAndGlyphs">Chongqing</text>
<text x="484.1" y="328.1" font-size="4.7" font-weight="bold" fill="#222222" fill-opacity="0.82" textLength="20.9" lengthAdjust="spacingAndGlyphs">Ningbo</text>
<text x="377.8" y="340.9" font-size="4.7" font-weight="bold" fill="#222222" fill-opacity="0.82" textLength="28.9" lengthAdjust="spacingAndGlyphs">Changsha</text>
<text x="414.7" y="337.9" font-size="4.6" font-weight="normal" fill="#6b6b60" fill-opacity="0.6" textLength="26" lengthAdjust="spacingAndGlyphs">Nanchang</text>
<text x="473.6" y="342.4" font-size="4.6" font-weight="normal" fill="#6b6b60" fill-opacity="0.6" textLength="23.8" lengthAdjust="spacingAndGlyphs">Wenzhou</text>
<text x="299.4" y="354.9" font-size="4.6" font-weight="bold" fill="#3a3a32" fill-opacity="0.7" textLength="22.9" lengthAdjust="spacingAndGlyphs">Guiyang</text>
<text x="455.8" y="357.9" font-size="4.7" font-weight="bold" fill="#222222" fill-opacity="0.82" textLength="21.7" lengthAdjust="spacingAndGlyphs">Fuzhou</text>
<text x="447.4" y="367.7" font-size="4.6" font-weight="bold" fill="#3a3a32" fill-opacity="0.7" textLength="27.7" lengthAdjust="spacingAndGlyphs">Quanzhou</text>
<text x="484.0" y="366.2" font-size="4.7" font-weight="bold" fill="#222222" fill-opacity="0.82" textLength="16.4" lengthAdjust="spacingAndGlyphs">Taipei</text>
<text x="332.2" y="372.2" font-size="4.6" font-weight="normal" fill="#6b6b60" fill-opacity="0.6" textLength="20.9" lengthAdjust="spacingAndGlyphs">Liuzhou</text>
<text x="423.9" y="380.2" font-size="4.7" font-weight="bold" fill="#222222" fill-opacity="0.82" textLength="23.8" lengthAdjust="spacingAndGlyphs">Shantou</text>
<text x="355.1" y="382.0" font-size="4.7" font-weight="bold" fill="#222222" fill-opacity="0.82" textLength="33.6" lengthAdjust="spacingAndGlyphs">Guangzhou</text>
<text x="319.6" y="384.1" font-size="4.7" font-weight="bold" fill="#222222" fill-opacity="0.82" textLength="24.4" lengthAdjust="spacingAndGlyphs">Nanning</text>
<text x="468.6" y="385.6" font-size="4.7" font-weight="bold" fill="#222222" fill-opacity="0.82" textLength="31.8" lengthAdjust="spacingAndGlyphs">Kaohsiung</text>
<text x="359.8" y="388.0" font-size="4.7" font-weight="bold" fill="#222222" fill-opacity="0.82" textLength="28" lengthAdjust="spacingAndGlyphs">Shenzhen</text>
<text x="394.7" y="391.5" font-size="4.7" font-weight="bold" fill="#222222" fill-opacity="0.82" textLength="32.8" lengthAdjust="spacingAndGlyphs">Hong Kong</text>
<text x="345.5" y="396.9" font-size="4.6" font-weight="bold" fill="#3a3a32" fill-opacity="0.7" textLength="26.8" lengthAdjust="spacingAndGlyphs">Zhanjiang</text>
<text x="280.0" y="398.1" font-size="4.7" font-weight="bold" fill="#222222" fill-opacity="0.82" textLength="16.4" lengthAdjust="spacingAndGlyphs">Hanoi</text>
<text x="301.4" y="401.1" font-size="4.7" font-weight="bold" fill="#222222" fill-opacity="0.82" textLength="27.8" lengthAdjust="spacingAndGlyphs">Haiphong</text>
<text x="301.5" y="408.5" font-size="4.6" font-style="italic" fill="#7b9fb8" fill-opacity="0.85" textLength="17" lengthAdjust="spacingAndGlyphs">Gulf of</text>
<text x="301.5" y="413.0" font-size="4.6" font-style="italic" fill="#7b9fb8" fill-opacity="0.85" textLength="17" lengthAdjust="spacingAndGlyphs">Tonkin</text>
<text x="470.0" y="405.5" font-size="4.6" font-style="italic" fill="#7b9fb8" fill-opacity="0.85" textLength="16" lengthAdjust="spacingAndGlyphs">Luzon</text>
<text x="470.5" y="410.0" font-size="4.6" font-style="italic" fill="#7b9fb8" fill-opacity="0.85" textLength="15" lengthAdjust="spacingAndGlyphs">Strait</text>
<text x="318.7" y="435.9" font-size="4.7" font-weight="bold" fill="#222222" fill-opacity="0.82" textLength="22.4" lengthAdjust="spacingAndGlyphs">Da Nang</text>
<text x="305.4" y="448.1" font-size="4.7" font-weight="normal" fill="#8a8878" fill-opacity="0.75" textLength="31.3" lengthAdjust="spacingAndGlyphs">VIETNAM</text>
<text x="476.6" y="446.6" font-size="4.7" font-weight="bold" fill="#222222" fill-opacity="0.82" textLength="19.4" lengthAdjust="spacingAndGlyphs">Manila</text>
<text x="519.8" y="449.6" font-size="4.6" font-style="italic" fill="#7b9fb8" fill-opacity="0.85" textLength="26.8" lengthAdjust="spacingAndGlyphs">Philippine</text>
<text x="528.2" y="454.1" font-size="4.6" font-style="italic" fill="#7b9fb8" fill-opacity="0.85" textLength="10" lengthAdjust="spacingAndGlyphs">Sea</text>
<text x="478.1" y="469.6" font-size="4.7" font-weight="normal" fill="#8a8878" fill-opacity="0.75" textLength="43.2" lengthAdjust="spacingAndGlyphs">PHILIPPINES</text>
<text x="300.9" y="473.2" font-size="4.7" font-weight="bold" fill="#222222" fill-opacity="0.82" textLength="19.3" lengthAdjust="spacingAndGlyphs">Ho Chi</text>
<text x="299.4" y="477.0" font-size="4.7" font-weight="bold" fill="#222222" fill-opacity="0.82" textLength="28.9" lengthAdjust="spacingAndGlyphs">Minh City</text>
<text x="515.3" y="479.1" font-size="4.7" font-weight="bold" fill="#222222" fill-opacity="0.82" textLength="26.8" lengthAdjust="spacingAndGlyphs">Cebu City</text>
<text x="511.1" y="248.4" font-size="4.6" font-style="italic" fill="#7b9fb8" fill-opacity="0.85" textLength="12.6" lengthAdjust="spacingAndGlyphs">Korea</text>
<text x="514.1" y="252.5" font-size="4.6" font-style="italic" fill="#7b9fb8" fill-opacity="0.85" textLength="7" lengthAdjust="spacingAndGlyphs">Bay</text>
<text x="535.0" y="238.5" font-size="4.7" font-weight="normal" fill="#8a8878" fill-opacity="0.75" textLength="22" lengthAdjust="spacingAndGlyphs">NORTH KO</text>
<text x="547.0" y="242.3" font-size="4.7" font-weight="normal" fill="#8a8878" fill-opacity="0.75" textLength="10" lengthAdjust="spacingAndGlyphs">REA</text>
<text x="537.0" y="248.0" font-size="4.7" font-weight="bold" fill="#222222" fill-opacity="0.82" textLength="22" lengthAdjust="spacingAndGlyphs">Pyongyan</text>
<text x="534.5" y="262.5" font-size="4.7" font-weight="bold" fill="#222222" fill-opacity="0.82" textLength="13" lengthAdjust="spacingAndGlyphs">Nampo</text>
<text x="552.5" y="262.3" font-size="4.7" font-weight="bold" fill="#222222" fill-opacity="0.82" textLength="5" lengthAdjust="spacingAndGlyphs">Se</text>
</g>
<g filter="url(#b03)">
<g transform="translate(424.0 262.9)" fill="#440154"><path d="M0 22.8V11L5.4 7.3V9.5L6.5 9.5L10.2 7.3L11.2 7.3V9L14.1 11.2V22.8Z"/><rect x="16" y="4.9" width="6.2" height="17.9"/><path d="M16.7 3.9V1.6Q16.7 0 18.3 0H20Q21.6 0 21.6 1.6V3.9Z"/><rect x="2.9" y="14.4" width="1.6" height="1.5" fill="#f6dcf4"/><rect x="6.3" y="14.4" width="1.6" height="1.5" fill="#f6dcf4"/><rect x="10.1" y="14.4" width="1.6" height="1.5" fill="#f6dcf4"/><rect x="2.9" y="18.0" width="1.6" height="1.5" fill="#f6dcf4"/><rect x="6.3" y="18.0" width="1.6" height="1.5" fill="#f6dcf4"/><rect x="10.1" y="18.0" width="1.6" height="1.5" fill="#f6dcf4"/></g>
<g transform="translate(21.0 389.0)" fill="#1f8a84"><path d="M0 22.8V11L5.4 7.3V9.5L6.5 9.5L10.2 7.3L11.2 7.3V9L14.1 11.2V22.8Z"/><rect x="16" y="4.9" width="6.2" height="17.9"/><path d="M16.7 3.9V1.6Q16.7 0 18.3 0H20Q21.6 0 21.6 1.6V3.9Z"/><rect x="2.9" y="14.4" width="1.6" height="1.5" fill="#c8f4ee"/><rect x="6.3" y="14.4" width="1.6" height="1.5" fill="#c8f4ee"/><rect x="10.1" y="14.4" width="1.6" height="1.5" fill="#c8f4ee"/><rect x="2.9" y="18.0" width="1.6" height="1.5" fill="#c8f4ee"/><rect x="6.3" y="18.0" width="1.6" height="1.5" fill="#c8f4ee"/><rect x="10.1" y="18.0" width="1.6" height="1.5" fill="#c8f4ee"/></g>
<g transform="translate(520.8 239.9)" fill="#fde420"><path d="M0 22.8V11L5.4 7.3V9.5L6.5 9.5L10.2 7.3L11.2 7.3V9L14.1 11.2V22.8Z"/><rect x="16" y="4.9" width="6.2" height="17.9"/><path d="M16.7 3.9V1.6Q16.7 0 18.3 0H20Q21.6 0 21.6 1.6V3.9Z"/><rect x="2.9" y="14.4" width="1.6" height="1.5" fill="#fdf08a"/><rect x="6.3" y="14.4" width="1.6" height="1.5" fill="#fdf08a"/><rect x="10.1" y="14.4" width="1.6" height="1.5" fill="#fdf08a"/><rect x="2.9" y="18.0" width="1.6" height="1.5" fill="#fdf08a"/><rect x="6.3" y="18.0" width="1.6" height="1.5" fill="#fdf08a"/><rect x="10.1" y="18.0" width="1.6" height="1.5" fill="#fdf08a"/></g>
</g>
</g>
</g>
<g id="chart">
<path d="M722 231.9H1822M722 295.3H1822M722 358.7H1822M722 422.1H1822" stroke="#cccccc" stroke-width="1" fill="none"/>
<g stroke="#ffffff" stroke-width="1">
<rect x="772.00" y="437.3" width="70.18" height="48.2" fill="#3f0b49"/>
<rect x="842.18" y="323.4" width="70.18" height="162.1" fill="#2f857e"/>
<rect x="912.35" y="342.3" width="70.18" height="143.2" fill="#e1d13b"/>
<rect x="1035.16" y="441.4" width="70.18" height="44.1" fill="#3f0b49"/>
<rect x="1105.33" y="319.2" width="70.18" height="166.3" fill="#2f857e"/>
<rect x="1175.51" y="363.4" width="70.18" height="122.1" fill="#e1d13b"/>
<rect x="1298.32" y="441.3" width="70.18" height="44.2" fill="#3f0b49"/>
<rect x="1368.49" y="316.3" width="70.18" height="169.2" fill="#2f857e"/>
<rect x="1561.47" y="443.3" width="70.18" height="42.2" fill="#3f0b49"/>
<rect x="1631.65" y="314.2" width="70.18" height="171.3" fill="#2f857e"/>
<rect x="1701.82" y="373.4" width="70.18" height="112.1" fill="#e1d13b"/>
</g>
<rect x="722.5" y="168.5" width="1100" height="317" fill="none" stroke="#cccccc" stroke-width="1"/>
<path d="M877.3 361.8L1140.4 358.7L1403.6 366.7L1666.7 411.6" fill="none" stroke="#808080" stroke-width="2.8" stroke-dasharray="9.2 4"/>
<g font-size="10.8" fill="#262626" text-anchor="end">
<text x="714.5" y="171.8">100%</text>
<text x="714.5" y="235.2">80%</text>
<text x="714.5" y="298.6">60%</text>
<text x="714.5" y="362">40%</text>
<text x="714.5" y="425.4">20%</text>
<text x="714.5" y="488.8">0%</text>
</g><g font-size="11" fill="#262626" text-anchor="middle">
<text x="877.3" y="500.2">2025-07</text>
<text x="1140.4" y="500.2">2025-08</text>
<text x="1403.6" y="500.2">2025-09</text>
<text x="1666.7" y="500.2">2025-10</text>
</g>
<text id="ylab" transform="translate(678.8 393.3) rotate(-90)" font-size="14.0" fill="#262626" textLength="130.5" lengthAdjust="spacingAndGlyphs">Production Activity</text>
</g>
<text id="foot" x="1201" y="543" font-size="19" font-style="italic" fill="#808080" textLength="620.5" lengthAdjust="spacingAndGlyphs">*The activity data is sourced from LaGrand's satellite measurements</text>
</svg>
</body></html>
